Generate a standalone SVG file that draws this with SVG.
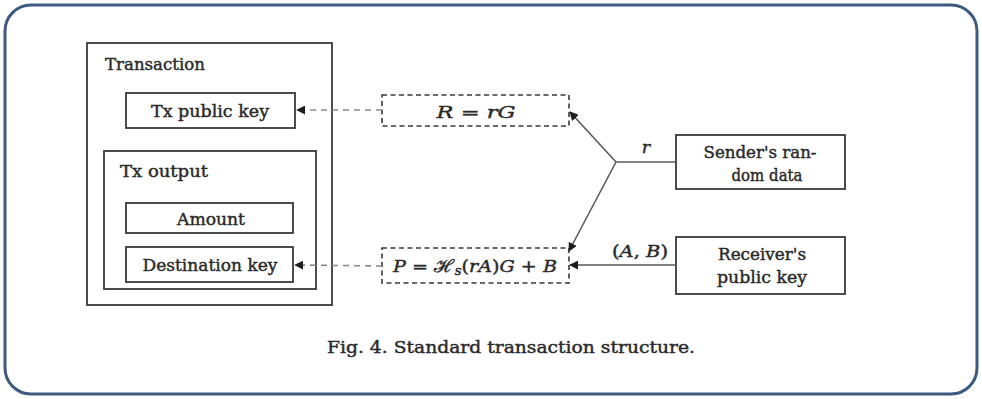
<svg xmlns="http://www.w3.org/2000/svg" width="982" height="399" viewBox="0 0 982 399">
  <style>
    .frame { fill: #ffffff; stroke: #3d5a80; stroke-width: 3; }
    .box { fill: #ffffff; stroke: #3a3a3a; stroke-width: 1.8; }
    .dbox { fill: #ffffff; stroke: #3a3a3a; stroke-width: 1.6; stroke-dasharray: 5 3.5; }
    .lbl { font-family: "DejaVu Serif", serif; font-size: 17.5px; fill: #2a2a2a; stroke: #2a2a2a; stroke-width: 0.45; }
    .mid { text-anchor: middle; }
    .it { font-style: italic; }
    .solid { fill: none; stroke: #5a5a5a; stroke-width: 1.6; }
    .dash { fill: none; stroke: #8a8a8a; stroke-width: 1.6; stroke-dasharray: 6 5; }
  </style>
  <defs>
    <marker id="tip" viewBox="0 0 10 10" refX="9" refY="5" markerWidth="9" markerHeight="9" markerUnits="userSpaceOnUse" orient="auto">
      <path d="M0,0 L10,5 L0,10 Z" fill="#1e1e1e"/>
    </marker>
  </defs>

  <!-- outer frame -->
  <rect class="frame" x="5" y="5" width="972" height="389" rx="26" ry="26"/>

  <!-- transaction container -->
  <g id="transaction">
    <rect class="box" x="87" y="43" width="245" height="262"/>
    <text class="lbl" x="105" y="70" textLength="100" lengthAdjust="spacingAndGlyphs">Transaction</text>
  </g>
  <g id="tx-public-key">
    <rect class="box" x="126" y="93" width="169" height="35"/>
    <text class="lbl mid" x="210" y="117" textLength="118" lengthAdjust="spacingAndGlyphs">Tx public key</text>
  </g>
  <g id="tx-output">
    <rect class="box" x="104" y="151" width="212" height="138"/>
    <text class="lbl" x="120" y="177" textLength="88" lengthAdjust="spacingAndGlyphs">Tx output</text>
  </g>
  <g id="amount">
    <rect class="box" x="126" y="203" width="167" height="30"/>
    <text class="lbl mid" x="211" y="225" textLength="68" lengthAdjust="spacingAndGlyphs">Amount</text>
  </g>
  <g id="destination-key">
    <rect class="box" x="126" y="247" width="167" height="35"/>
    <text class="lbl mid" x="210" y="271" textLength="135" lengthAdjust="spacingAndGlyphs">Destination key</text>
  </g>

  <!-- derived keys -->
  <g id="r-equals-rg">
    <rect class="dbox" x="382" y="95" width="187" height="31"/>
    <text class="lbl mid" x="476" y="118" textLength="79" lengthAdjust="spacingAndGlyphs"><tspan class="it">R</tspan> = <tspan class="it">rG</tspan></text>
  </g>
  <g id="p-equation">
    <rect class="dbox" x="382" y="248" width="187" height="35"/>
    <text class="lbl mid" x="475" y="272" textLength="164" lengthAdjust="spacingAndGlyphs"><tspan class="it">P</tspan> = ℋ<tspan class="it" font-size="12" dy="3">s</tspan><tspan dy="-3">(</tspan><tspan class="it">rA</tspan>)<tspan class="it">G</tspan> + <tspan class="it">B</tspan></text>
  </g>

  <!-- inputs -->
  <g id="sender-random-data">
    <rect class="box" x="676" y="135" width="169" height="54"/>
    <text class="lbl mid" x="760" y="158" textLength="113" lengthAdjust="spacingAndGlyphs">Sender's ran-</text>
    <text class="lbl mid" x="767" y="181" textLength="71" lengthAdjust="spacingAndGlyphs">dom data</text>
  </g>
  <g id="receiver-public-key">
    <rect class="box" x="676" y="237" width="169" height="57"/>
    <text class="lbl mid" x="762" y="260" textLength="88" lengthAdjust="spacingAndGlyphs">Receiver's</text>
    <text class="lbl mid" x="762" y="283" textLength="90" lengthAdjust="spacingAndGlyphs">public key</text>
  </g>

  <!-- connectors -->
  <g id="connectors">
    <path class="dash" d="M382,110 L297,110" marker-end="url(#tip)"/>
    <path class="dash" d="M382,266 L295,265" marker-end="url(#tip)"/>
    <path class="solid" d="M676,162 L616,162"/>
    <path class="solid" d="M616,162 L570,112" marker-end="url(#tip)"/>
    <path class="solid" d="M616,162 L569,251" marker-end="url(#tip)"/>
    <path class="solid" d="M676,265 L570,265" marker-end="url(#tip)"/>
    <text class="lbl it mid" x="646" y="153">r</text>
    <text class="lbl mid" x="640" y="257" textLength="56" lengthAdjust="spacingAndGlyphs">(<tspan class="it">A</tspan>, <tspan class="it">B</tspan>)</text>
  </g>

  <!-- caption -->
  <text class="lbl mid" x="511" y="353" textLength="368" lengthAdjust="spacingAndGlyphs">Fig. 4. Standard transaction structure.</text>
</svg>
